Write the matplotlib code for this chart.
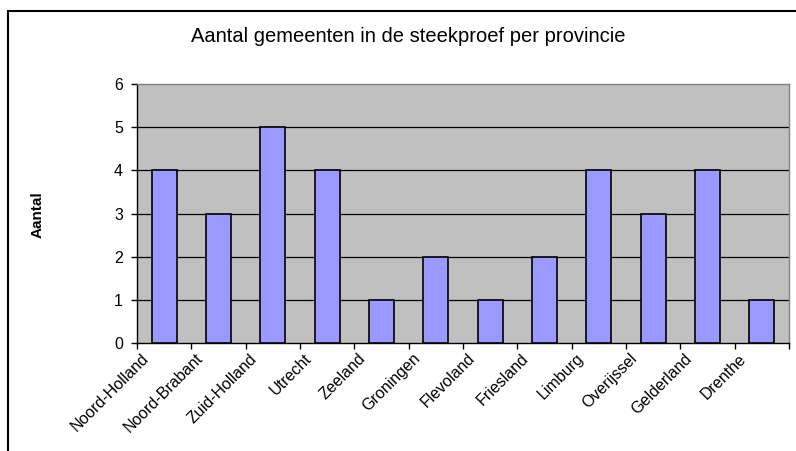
import numpy as np
import matplotlib.pyplot as plt
import matplotlib.transforms as mtransforms
from matplotlib.patches import Rectangle

plt.rcParams['font.family'] = ['Liberation Sans', 'DejaVu Sans']

provincies = ["Noord-Holland", "Noord-Brabant", "Zuid-Holland", "Utrecht", "Zeeland",
              "Groningen", "Flevoland", "Friesland", "Limburg", "Overijssel",
              "Gelderland", "Drenthe"]
aantal = [4, 3, 5, 4, 1, 2, 1, 2, 4, 3, 4, 1]
yticks = [0, 1, 2, 3, 4, 5, 6]

fig = plt.figure(figsize=(7.96, 4.51), dpi=100)
# rand om de hele grafiek (loopt door tot buiten het plaatje)
fig.patches.append(Rectangle((8/796, -0.1), 1.2, 1 - 11/451 + 0.1, transform=fig.transFigure,
                             fill=False, edgecolor='black', linewidth=1.5))

ax = fig.add_axes([137/796, 1 - 343/451, 652/796, 259/451])
ax.set_facecolor('#C0C0C0')

x = np.arange(len(provincies))
ax.bar(x, aantal, width=1/2.2, color='#9999FF', edgecolor='black', linewidth=1.2, zorder=3)

ax.set_xlim(-0.5, len(provincies) - 0.5)
ax.set_ylim(0, 6)
ax.set_yticks(yticks)
for v in yticks[1:-1]:
    ax.axhline(v, color='black', linewidth=0.9, zorder=1)

ax.set_xticks(x)
ax.set_xticklabels(provincies, rotation=45, ha='right', va='center', rotation_mode='anchor', fontsize=11.5)
ax.set_xticks(np.arange(-0.5, len(provincies)), minor=True)
ax.tick_params(axis='x', which='major', length=0, pad=9.5)
ax.tick_params(axis='x', which='minor', length=4, width=1, color='black')
ax.tick_params(axis='y', length=4, width=1, pad=6, labelsize=11.5)
offset = mtransforms.ScaledTranslation(-18/100, 0, fig.dpi_scale_trans)
for lab in ax.get_xticklabels():
    lab.set_transform(lab.get_transform() + offset)

for s in ['left', 'bottom']:
    ax.spines[s].set_color('black')
    ax.spines[s].set_linewidth(1)
for s in ['top', 'right']:
    ax.spines[s].set_color('#808080')
    ax.spines[s].set_linewidth(1)

fig.text(408/796, 1 - 36/451, "Aantal gemeenten in de steekproef per provincie",
         ha='center', va='center', fontsize=14.5)
fig.text(38/796, 1 - 215/451, "Aantal", rotation=90, ha='center', va='center',
         fontsize=11, fontweight='bold', family=['Liberation Sans Narrow', 'Liberation Sans'])

fig.savefig('out.png', dpi=100)
